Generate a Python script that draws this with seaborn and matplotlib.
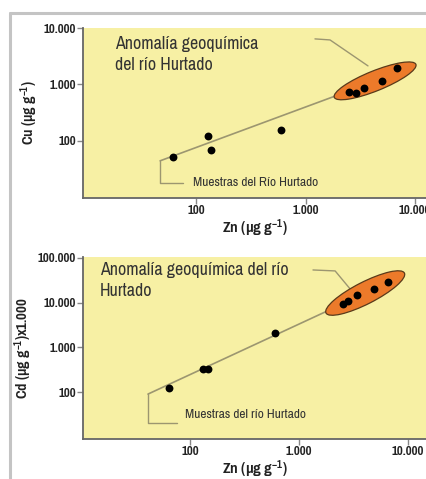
import numpy as np
import pandas as pd
import matplotlib
matplotlib.use("Agg")
import matplotlib.pyplot as plt
import seaborn as sns
from matplotlib.patches import Ellipse
from matplotlib.lines import Line2D
from matplotlib.ticker import FuncFormatter, NullLocator
from matplotlib.transforms import ScaledTranslation

# datos
zn_cu = [62, 129, 137, 597, 2490, 2890, 3420, 5000, 6850]
cu = [52, 123, 69, 157, 750, 700, 860, 1160, 1950]

zn_cd = [64, 131, 146, 603, 2540, 2800, 3400, 4870, 6560]
cd = [120, 322, 322, 2090, 9330, 10900, 14800, 20200, 28900]

# recta de tendencia (extremos)
trend_zn_cu = [47, 3000]
trend_cu = [44, 877]
trend_zn_cd = [41, 3000]
trend_cd = [90, 11500]

x_ticks = [100, 1000, 10000]
y_ticks_cu = [100, 1000, 10000]
y_ticks_cd = [100, 1000, 10000, 100000]

YELLOW = "#f7f0a4"
ORANGE = "#ec7a2a"
LINE = "#9c9670"
TXT = "#333333"
FONT = ["Pragati Narrow", "DejaVu Sans"]

sns.set_theme(style="white")
plt.rcParams["font.family"] = FONT
plt.rcParams["mathtext.default"] = "regular"

fig = plt.figure(figsize=(4.26, 4.79), dpi=100)
ax1 = fig.add_axes([0.195, 0.5866, 0.805, 0.355])
ax2 = fig.add_axes([0.195, 0.0835, 0.805, 0.38])

df_cu = pd.DataFrame({"Zn": zn_cu, "Cu": cu})
df_cd = pd.DataFrame({"Zn": zn_cd, "Cd": cd})
tr_cu = pd.DataFrame({"Zn": trend_zn_cu, "Cu": trend_cu})
tr_cd = pd.DataFrame({"Zn": trend_zn_cd, "Cd": trend_cd})

fmt = FuncFormatter(lambda v, p: f"{v:,.0f}".replace(",", "."))


def ellipse(ax, cx, cy, a_px, b_px, ang):
    # elipse definida en píxeles, centrada en coordenadas de datos
    tr = fig.dpi_scale_trans + ScaledTranslation(cx, cy, ax.transData)
    e = Ellipse((0, 0), 2 * a_px / 100, 2 * b_px / 100, angle=ang,
                facecolor=ORANGE, edgecolor="#5a3a1a", lw=0.9, transform=tr, zorder=3)
    ax.add_patch(e)


def style(ax, ylim, yticks, xlim, ylabel):
    ax.set_facecolor(YELLOW)
    ax.set_xscale("log")
    ax.set_yscale("log")
    ax.set_xlim(*xlim)
    ax.set_ylim(*ylim)
    ax.set_xticks(x_ticks)
    ax.set_yticks(yticks)
    ax.xaxis.set_minor_locator(NullLocator())
    ax.yaxis.set_minor_locator(NullLocator())
    ax.xaxis.set_major_formatter(fmt)
    ax.yaxis.set_major_formatter(fmt)
    for s in ["top", "right"]:
        ax.spines[s].set_visible(False)
    for s in ["left", "bottom"]:
        ax.spines[s].set_color("#666666")
        ax.spines[s].set_linewidth(1.3)
    ax.tick_params(axis="both", which="major", length=4, width=1, color="#888888",
                   labelsize=10, pad=1, direction="out", left=True, bottom=True)
    for lab in ax.get_xticklabels() + ax.get_yticklabels():
        lab.set_fontweight("bold")
        lab.set_color("#222222")
    ax.set_xlabel("Zn (µg g$^{-1}$)", fontsize=12, fontweight="bold", color="#222222", labelpad=1)
    ax.set_ylabel(ylabel, fontsize=11.5, fontweight="bold", color="#222222", labelpad=3)


# --- gráfico superior: Cu vs Zn ---
sns.lineplot(data=tr_cu, x="Zn", y="Cu", ax=ax1, color=LINE, lw=1.2, zorder=2)
ellipse(ax1, 4320, 1160, 44, 10, 22)
sns.scatterplot(data=df_cu, x="Zn", y="Cu", ax=ax1, color="black", s=32,
                edgecolor="black", linewidth=0, zorder=5)
style(ax1, (9.6, 10100), y_ticks_cu, (9.3, 12600), "Cu (µg g$^{-1}$)")
ax1.plot([47, 47, 76], [44, 18, 18], color=LINE, lw=1.0, zorder=2)
ax1.text(94, 18, "Muestras del Río Hurtado", fontsize=10.5, color=TXT, va="center")
ax1.plot([1220, 1675, 3720], [6460, 6190, 2140], color=LINE, lw=1.0, zorder=2)
ax1.text(0.093, 0.955, "Anomalía geoquímica\ndel río Hurtado", transform=ax1.transAxes,
         fontsize=14, color=TXT, va="top", ha="left", linespacing=1.4)

# --- gráfico inferior: Cd vs Zn ---
sns.lineplot(data=tr_cd, x="Zn", y="Cd", ax=ax2, color=LINE, lw=1.2, zorder=2)
ellipse(ax2, 4040, 16400, 44, 11, 27)
sns.scatterplot(data=df_cd, x="Zn", y="Cd", ax=ax2, color="black", s=32,
                edgecolor="black", linewidth=0, zorder=5)
style(ax2, (8.9, 105000), y_ticks_cd, (10.4, 14600), "Cd (µg g$^{-1}$)x1.000")
ax2.plot([41, 41, 76], [90, 20, 20], color=LINE, lw=1.0, zorder=2)
ax2.text(90, 32, "Muestras del río Hurtado", fontsize=10.5, color=TXT, va="center")
ax2.plot([1340, 2140, 2940], [53800, 51200, 20200], color=LINE, lw=1.0, zorder=2)
ax2.text(0.05, 0.975, "Anomalía geoquímica del río\nHurtado", transform=ax2.transAxes,
         fontsize=14, color=TXT, va="top", ha="left", linespacing=1.4)

# marco gris exterior
fig.add_artist(Line2D([10 / 426, 1.0], [1 - 13 / 479] * 2, color="#c4c4c4", lw=2.2))
fig.add_artist(Line2D([10 / 426] * 2, [0.0, 1 - 13 / 479], color="#c4c4c4", lw=2.2))

fig.savefig("out.png", dpi=100, facecolor="white")
